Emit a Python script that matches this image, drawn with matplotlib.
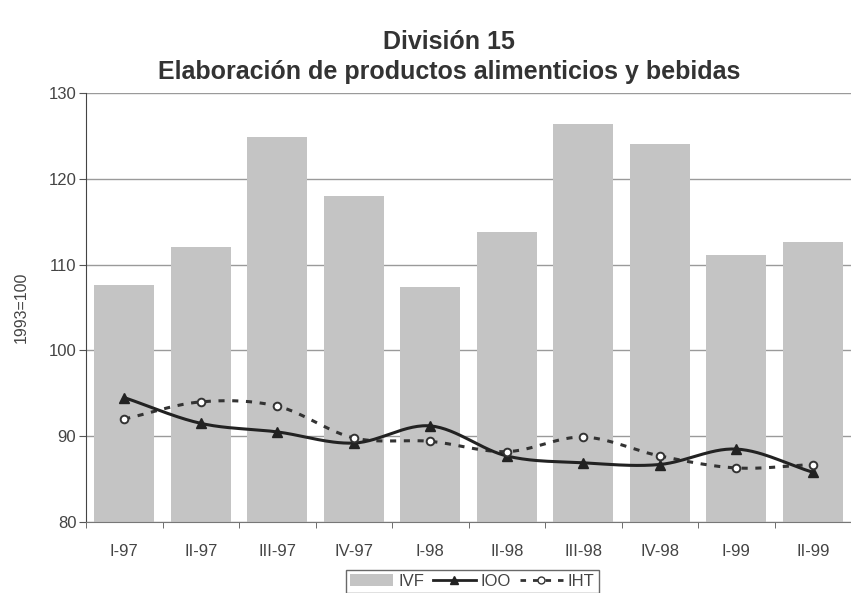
import numpy as np
import matplotlib
matplotlib.use("Agg")
import matplotlib.pyplot as plt
from matplotlib.lines import Line2D
from matplotlib.patches import Patch

plt.rcParams['font.family'] = ['Liberation Sans', 'DejaVu Sans']

categories = ["I-97", "II-97", "III-97", "IV-97", "I-98", "II-98", "III-98", "IV-98", "I-99", "II-99"]
ivf = [107.6, 112.0, 124.9, 118.0, 107.4, 113.8, 126.4, 124.1, 111.1, 112.6]
ioo = [94.5, 91.5, 90.5, 89.2, 91.2, 87.7, 86.9, 86.7, 88.5, 85.8]
iht = [92.0, 94.0, 93.5, 89.8, 89.4, 88.2, 89.9, 87.7, 86.3, 86.7]
yticks = [80, 90, 100, 110, 120, 130]


def smooth(y, n=30):
    y = np.asarray(y, float)
    x = np.arange(len(y), dtype=float)
    p = np.concatenate([[2 * y[0] - y[1]], y, [2 * y[-1] - y[-2]]])
    xs, ys = [], []
    for i in range(len(y) - 1):
        p0, p1, p2, p3 = p[i], p[i + 1], p[i + 2], p[i + 3]
        t = np.linspace(0, 1, n, endpoint=(i == len(y) - 2))
        yy = 0.5 * ((2 * p1) + (-p0 + p2) * t + (2 * p0 - 5 * p1 + 4 * p2 - p3) * t ** 2
                    + (-p0 + 3 * p1 - 3 * p2 + p3) * t ** 3)
        xs.append(x[i] + t)
        ys.append(yy)
    return np.concatenate(xs), np.concatenate(ys)


fig = plt.figure(figsize=(8.51, 5.93), dpi=100)
fig.patch.set_facecolor('white')
ax = fig.add_axes([86 / 851, 1 - 522 / 593, 1 - 86 / 851, (522 - 93) / 593])

x = np.arange(len(categories))
ax.bar(x, ivf, width=0.78, color='#c4c4c4', zorder=2)

sx, sy = smooth(ioo)
ax.plot(sx, sy, color='#222222', lw=2.2, zorder=4)
ax.plot(x, ioo, ls='none', marker='^', ms=6.5, color='#222222', zorder=5)

hx, hy = smooth(iht)
ax.plot(hx, hy, color='#333333', lw=2.2, ls=(0, (2, 2.5)), zorder=3)
ax.plot(x, iht, ls='none', marker='o', ms=5.5, mfc='white', mec='#333333', mew=1.4, zorder=5)

ax.set_ylim(80, 130)
ax.set_xlim(-0.5, 9.4)
ax.set_yticks(yticks)
ax.set_yticklabels([str(v) for v in yticks], fontsize=12, color='#444444')
ax.yaxis.grid(True, color='#9a9a9a', lw=1.0, zorder=0)
ax.set_axisbelow(True)

ax.set_xticks(x)
ax.set_xticklabels(categories, fontsize=12, color='#444444')
ax.set_xticks(np.arange(-0.5, 9.6, 1.0), minor=True)
ax.tick_params(axis='x', which='major', length=0, pad=16)
ax.tick_params(axis='x', which='minor', length=4, color='#555555')
ax.tick_params(axis='y', length=5, color='#555555', pad=2)

for s in ['top', 'right']:
    ax.spines[s].set_visible(False)
ax.spines['left'].set_color('#444444')
ax.spines['bottom'].set_color('#777777')

ax.set_ylabel('1993=100', fontsize=11.5, color='#444444', labelpad=14)

fig.text(0.528, 1 - 42 / 593, 'División 15', ha='center', va='center', fontsize=18,
         fontweight='bold', color='#333333')
fig.text(0.528, 1 - 72 / 593, 'Elaboración de productos alimenticios y bebidas', ha='center',
         va='center', fontsize=18, fontweight='bold', color='#333333')

handles = [Patch(facecolor='#c4c4c4', edgecolor='none'),
           Line2D([0], [0], color='#222222', lw=2, marker='^', ms=6),
           Line2D([0], [0], color='#333333', lw=2, ls=(0, (2, 2.5)), marker='o', ms=5,
                  mfc='white', mec='#333333')]
leg = fig.legend(handles, ['IVF', 'IOO', 'IHT'], loc='lower center', ncol=3,
                 bbox_to_anchor=(0.555, -0.014), fontsize=12, frameon=True,
                 fancybox=False, edgecolor='#444444', handlelength=2.6,
                 handletextpad=0.3, columnspacing=0.5, borderpad=0.25)
for t in leg.get_texts():
    t.set_color('#444444')

fig.savefig('out.png', dpi=100, facecolor='white')
